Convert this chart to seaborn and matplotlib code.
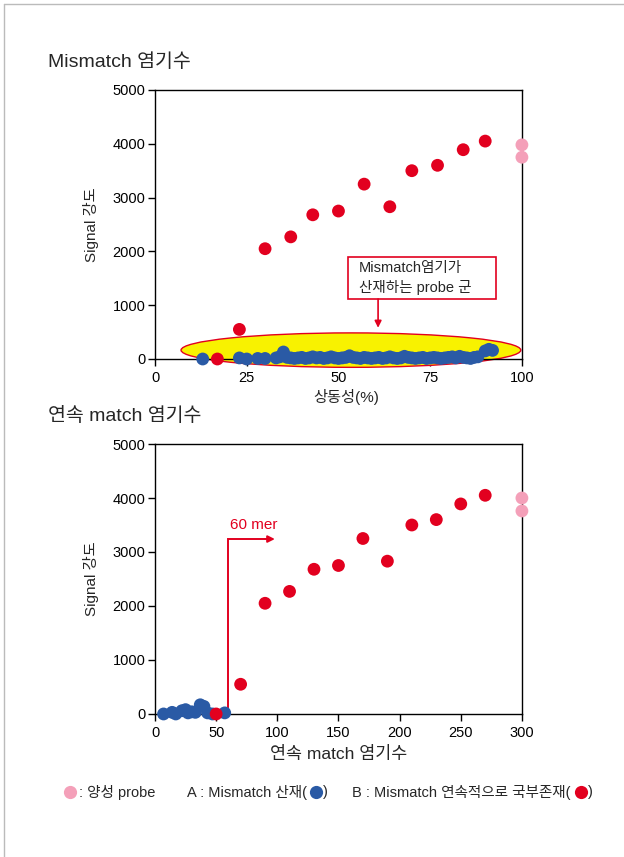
import seaborn as sns
import matplotlib.pyplot as plt
from matplotlib.patches import Ellipse, Rectangle
from matplotlib.lines import Line2D

# data - top chart (homology %)
red_top_x = [17, 23, 30, 37, 43, 50, 57, 64, 70, 77, 84, 90]
red_top_y = [0, 550, 2050, 2270, 2680, 2750, 3250, 2830, 3500, 3600, 3890, 4050]
pink_top_x = [100, 100]
pink_top_y = [3980, 3750]
blue_top_x = [13, 23, 25, 28, 30, 33, 34, 35, 36, 37, 38, 39, 40, 41, 42, 43, 44, 45,
              46, 47, 48, 49, 50, 51, 52, 53, 54, 55, 56, 57, 58, 59, 60, 61, 62, 63,
              64, 65, 66, 67, 68, 69, 70, 71, 72, 73, 74, 75, 76, 77, 78, 79, 80, 81,
              82, 83, 84, 85, 86, 87, 88, 90, 91, 92]
blue_top_y = [0, 20, 0, 10, 10, 20, 40, 130, 30, 20, 10, 20, 30, 10, 20, 40, 20, 30,
              10, 20, 40, 20, 10, 20, 30, 60, 30, 20, 10, 30, 20, 10, 20, 30, 10, 20,
              40, 20, 10, 20, 50, 30, 20, 10, 20, 30, 10, 20, 30, 20, 10, 20, 30, 40,
              20, 50, 30, 20, 10, 30, 40, 150, 180, 160]

# data - bottom chart (consecutive match bases)
red_bot_x = [50, 70, 90, 110, 130, 150, 170, 190, 210, 230, 250, 270]
red_bot_y = [0, 550, 2050, 2270, 2680, 2750, 3250, 2830, 3500, 3600, 3890, 4050]
pink_bot_x = [300, 300]
pink_bot_y = [4000, 3760]
blue_bot_x = [7, 14, 17, 22, 25, 27, 30, 33, 37, 40, 43, 47, 57]
blue_bot_y = [0, 30, 0, 60, 80, 20, 40, 30, 170, 140, 20, 0, 20]

top_xticks = [0, 25, 50, 75, 100]
bot_xticks = [0, 50, 100, 150, 200, 250, 300]
yticks = [0, 1000, 2000, 3000, 4000, 5000]

# colors
red = "#e2001f"
blue = "#2a5aa5"
pink = "#f4a0b9"

sns.set_style("ticks")
fonts = ['Liberation Sans', 'Noto Sans CJK KR', 'DejaVu Sans']
plt.rcParams['font.family'] = fonts

fig = plt.figure(figsize=(6.24, 8.57), dpi=100)
ax1 = fig.add_axes([0.2484, 0.5811, 0.588, 0.3139])
ax2 = fig.add_axes([0.2484, 0.1669, 0.588, 0.3150])

msize = 85

def style_axes(ax, xticks, xmax):
    ax.set_xlim(0, xmax)
    ax.set_ylim(0, 5000)
    ax.set_xticks(xticks)
    ax.set_yticks(yticks)
    ax.tick_params(direction='out', length=5, width=1, labelsize=10.5, colors='black')
    ax.tick_params(axis='y', pad=2)
    for spine in ax.spines.values():
        spine.set_visible(True)
        spine.set_color('black')
        spine.set_linewidth(1)
        spine.set_zorder(4)

# ---- top chart
style_axes(ax1, top_xticks, 100)
ell = Ellipse((53.4, 165), 92.6, 640, facecolor='#f8f200', edgecolor=red,
              linewidth=1, clip_on=False, zorder=1)
ax1.add_patch(ell)
sns.scatterplot(x=blue_top_x, y=blue_top_y, ax=ax1, color=blue, s=msize,
                edgecolor='none', clip_on=False, zorder=5, legend=False)
sns.scatterplot(x=red_top_x, y=red_top_y, ax=ax1, color=red, s=msize,
                edgecolor='none', clip_on=False, zorder=6, legend=False)
sns.scatterplot(x=pink_top_x, y=pink_top_y, ax=ax1, color=pink, s=msize,
                edgecolor='none', clip_on=False, zorder=6, legend=False)

box = Rectangle((52.6, 1115), 40.3, 781, facecolor='white', edgecolor=red,
                linewidth=1.2, zorder=7)
ax1.add_patch(box)
ax1.text(55.6, 1700, "Mismatch염기가", fontsize=10.5, va='center', ha='left', zorder=8)
ax1.text(55.6, 1330, "산재하는 probe 군", fontsize=10.5, va='center', ha='left', zorder=8)
ax1.annotate('', xy=(60.8, 580), xytext=(60.8, 1115),
             arrowprops=dict(arrowstyle='-|>', color=red, lw=1.2,
                             shrinkA=0, shrinkB=0, mutation_scale=10), zorder=8)

ax1.set_ylabel("Signal 강도", fontsize=11)
ax1.yaxis.set_label_coords(-0.153, 0.5)
ax1.set_xlabel("상동성(%)", fontsize=11)
ax1.xaxis.set_label_coords(0.52, -0.11)

# ---- bottom chart
style_axes(ax2, bot_xticks, 300)
sns.scatterplot(x=blue_bot_x, y=blue_bot_y, ax=ax2, color=blue, s=msize,
                edgecolor='none', clip_on=False, zorder=5, legend=False)
sns.scatterplot(x=red_bot_x, y=red_bot_y, ax=ax2, color=red, s=msize,
                edgecolor='none', clip_on=False, zorder=6, legend=False)
sns.scatterplot(x=pink_bot_x, y=pink_bot_y, ax=ax2, color=pink, s=msize,
                edgecolor='none', clip_on=False, zorder=6, legend=False)

ax2.plot([60, 60, 92], [0, 3240, 3240], color=red, lw=1.4, zorder=3,
         solid_joinstyle='miter')
ax2.annotate('', xy=(98, 3240), xytext=(90, 3240),
             arrowprops=dict(arrowstyle='-|>', color=red, lw=1.4,
                             shrinkA=0, shrinkB=0, mutation_scale=10))
ax2.text(61, 3500, "60 mer", color=red, fontsize=11, va='center', ha='left')

ax2.set_ylabel("Signal 강도", fontsize=11)
ax2.yaxis.set_label_coords(-0.153, 0.5)
ax2.set_xlabel("연속 match 염기수", fontsize=12.5)
ax2.xaxis.set_label_coords(0.5, -0.118)

# ---- titles
fig.text(48 / 624, 1 - 62 / 857, "Mismatch 염기수", fontsize=14, va='center', ha='left')
fig.text(48 / 624, 1 - 416 / 857, "연속 match 염기수", fontsize=14, va='center', ha='left')

# ---- legend row
ly = 1 - 792 / 857
def fig_dot(xpx, color):
    fig.add_artist(Line2D([xpx / 624], [ly], marker='o', markersize=9.5,
                          color=color, markeredgecolor='none', linestyle='none',
                          transform=fig.transFigure))

fig_dot(70, pink)
fig.text(79 / 624, ly, ": 양성 probe", fontsize=10.5, va='center', ha='left')
fig.text(187 / 624, ly, "A : Mismatch 산재(", fontsize=10.5, va='center', ha='left')
fig_dot(316, blue)
fig.text(323 / 624, ly, ")", fontsize=10.5, va='center', ha='left')
fig.text(352 / 624, ly, "B : Mismatch 연속적으로 국부존재(", fontsize=10.5, va='center', ha='left')
fig_dot(581, red)
fig.text(588 / 624, ly, ")", fontsize=10.5, va='center', ha='left')

# page frame lines (top and left)
fig.add_artist(Line2D([4 / 624, 1], [1 - 4 / 857, 1 - 4 / 857], color='#bbbbbb',
                      lw=1, transform=fig.transFigure))
fig.add_artist(Line2D([4 / 624, 4 / 624], [0, 1 - 4 / 857], color='#bbbbbb',
                      lw=1, transform=fig.transFigure))

fig.savefig('out.png', dpi=100)
